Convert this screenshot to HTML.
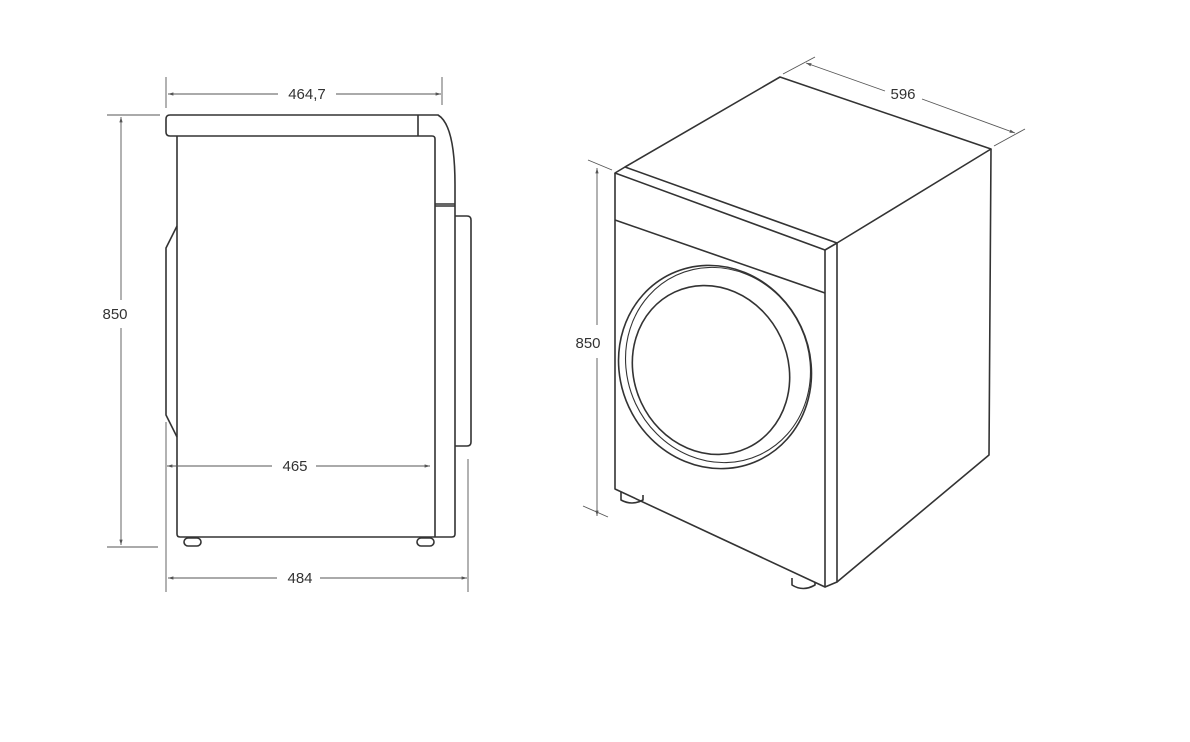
<!DOCTYPE html>
<html><head><meta charset="utf-8"><style>
html,body{margin:0;padding:0;background:#fff;}
svg{display:block;}
text{font-family:"Liberation Sans",sans-serif;font-size:15px;fill:#333;}
</style></head><body>
<svg width="1190" height="742" viewBox="0 0 1190 742" xmlns="http://www.w3.org/2000/svg">
<defs>
<marker id="a" viewBox="0 0 10 10" refX="10" refY="5" markerWidth="6" markerHeight="6" orient="auto-start-reverse"><path d="M0,2 L10,5 L0,8 z" fill="#555"/></marker>
</defs>
<g fill="none" stroke="#333" stroke-width="1.6" stroke-linejoin="round">
<path d="M170,115 L438,115 Q455,125 455,185 L455,205"/>
<path d="M170,115 Q166,115 166,119 L166,132 Q166,136 170,136 L418,136 M418,115 L418,136"/>
<path d="M418,136 L432,136 Q435,136 435,139 L435,537"/>
<path d="M177,136 L177,534 Q177,537 180,537 L435,537"/>
<path d="M435,204 L455,204 M435,206 L455,206"/>
<path d="M455,205 L455,534 Q455,537 452,537 L435,537"/>
<path d="M455,216 L467,216 Q471,216 471,220 L471,442 Q471,446 467,446 L455,446"/>
<path d="M177,226 L166,248 L166,415 L177,437"/>
<rect x="184" y="538" width="17" height="8" rx="4"/>
<rect x="417" y="538" width="17" height="8" rx="4"/>
</g>
<g fill="none" stroke="#555" stroke-width="0.9">
<line x1="166" y1="77" x2="166" y2="108"/>
<line x1="442" y1="77" x2="442" y2="105"/>
<line x1="168" y1="94" x2="278" y2="94" marker-start="url(#a)"/>
<line x1="336" y1="94" x2="441" y2="94" marker-end="url(#a)"/>
<line x1="107" y1="115" x2="160" y2="115"/>
<line x1="107" y1="547" x2="158" y2="547"/>
<line x1="121" y1="117" x2="121" y2="300" marker-start="url(#a)"/>
<line x1="121" y1="328" x2="121" y2="545" marker-end="url(#a)"/>
<line x1="166" y1="422" x2="166" y2="592"/>
<line x1="468" y1="459" x2="468" y2="592"/>
<line x1="167" y1="466" x2="272" y2="466" marker-start="url(#a)"/>
<line x1="316" y1="466" x2="430" y2="466" marker-end="url(#a)"/>
<line x1="168" y1="578" x2="277" y2="578" marker-start="url(#a)"/>
<line x1="320" y1="578" x2="467" y2="578" marker-end="url(#a)"/>
</g>
<text x="307" y="99" text-anchor="middle">464,7</text>
<text x="115" y="319" text-anchor="middle">850</text>
<text x="295" y="471" text-anchor="middle">465</text>
<text x="300" y="583" text-anchor="middle">484</text>

<g fill="none" stroke="#333" stroke-width="1.6" stroke-linejoin="round">
<path d="M625,167 L780,77 L991,149 L837,243"/>
<path d="M615,173 L625,167 L837,243 L825,250 Z"/>
<path d="M615,173 L615,489 L825,587 L825,250"/>
<path d="M837,243 L837,582 L825,587"/>
<path d="M991,149 L989,455 L837,582"/>
<path d="M615,220 L825,293"/>
<ellipse cx="715" cy="367" rx="95" ry="103" transform="rotate(-25 715 367)"/>
<ellipse cx="718" cy="365" rx="91" ry="99" transform="rotate(-25 718 365)" stroke-width="1.1"/>
<ellipse cx="711" cy="370" rx="77" ry="86" transform="rotate(-25 711 370)"/>
<path d="M621,492 L621,500 Q632,506 643,500 L643,495"/>
<path d="M792,578 L792,585 Q803,592 815,585 L815,582"/>
</g>
<g fill="none" stroke="#555" stroke-width="0.9">
<line x1="588" y1="160" x2="612" y2="170"/>
<line x1="583" y1="506" x2="608" y2="517"/>
<line x1="597" y1="168" x2="597" y2="325" marker-start="url(#a)"/>
<line x1="597" y1="358" x2="597" y2="516" marker-end="url(#a)"/>
<line x1="783" y1="74" x2="815" y2="57"/>
<line x1="994" y1="146" x2="1025" y2="129"/>
<line x1="806" y1="63" x2="885" y2="91" marker-start="url(#a)"/>
<line x1="922" y1="99" x2="1015" y2="133" marker-end="url(#a)"/>
</g>
<text x="903" y="99" text-anchor="middle">596</text>
<text x="588" y="348" text-anchor="middle">850</text>
</svg>
</body></html>
